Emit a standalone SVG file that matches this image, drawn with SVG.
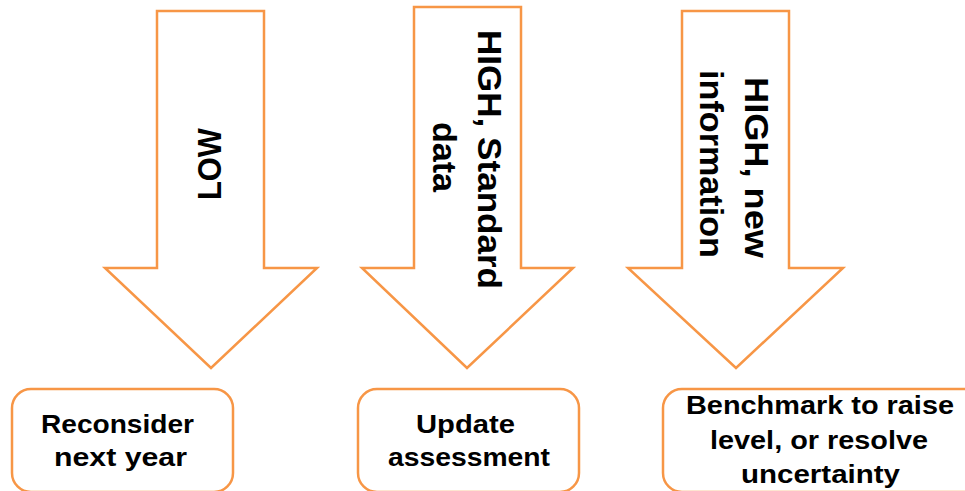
<svg xmlns="http://www.w3.org/2000/svg" width="965" height="491" viewBox="0 0 965 491">
  <style>
    .arrow { fill: #ffffff; stroke: #F79646; stroke-width: 2.5; stroke-linejoin: miter; }
    .box { fill: #ffffff; stroke: #F79646; stroke-width: 2.5; }
    .lbl { font-family: "Liberation Sans", Arial, sans-serif; font-weight: bold; fill: #000000; }
    .al { font-size: 33px; }
    .bl { font-size: 25px; }
  </style>
  <rect x="0" y="0" width="965" height="491" fill="#ffffff"/>
  <g id="connectors">
    <g id="arrow-low">
      <polygon class="arrow" points="157,11 264,11 264,268 317,268 211,368 105,268 157,268"/>
      <text class="lbl al" transform="translate(221,200) rotate(-90)" x="0" y="0" textLength="72" lengthAdjust="spacingAndGlyphs">LOW</text>
    </g>
    <g id="arrow-high-standard">
      <polygon class="arrow" points="414,7 521,7 521,268 573,268 467,368 362,268 414,268"/>
      <text class="lbl al" transform="translate(478,30) rotate(90)" x="0" y="0" textLength="259" lengthAdjust="spacingAndGlyphs">HIGH, Standard</text>
      <text class="lbl al" transform="translate(433,122) rotate(90)" x="0" y="0" textLength="70" lengthAdjust="spacingAndGlyphs">data</text>
    </g>
    <g id="arrow-high-new">
      <polygon class="arrow" points="682,11 789,11 789,268 843,268 736,368 628,268 682,268"/>
      <text class="lbl al" transform="translate(745,77) rotate(90)" x="0" y="0" textLength="181" lengthAdjust="spacingAndGlyphs">HIGH,  new</text>
      <text class="lbl al" transform="translate(700,70) rotate(90)" x="0" y="0" textLength="188" lengthAdjust="spacingAndGlyphs">information</text>
    </g>
  </g>
  <g id="node-reconsider">
    <rect class="box" x="12" y="389" width="221" height="103" rx="19" ry="19"/>
    <text class="lbl bl" x="41" y="433" textLength="153" lengthAdjust="spacingAndGlyphs">Reconsider</text>
    <text class="lbl bl" x="54" y="466" textLength="133" lengthAdjust="spacingAndGlyphs">next year</text>
  </g>
  <g id="node-update">
    <rect class="box" x="358" y="389" width="221" height="103" rx="19" ry="19"/>
    <text class="lbl bl" x="416" y="433" textLength="99" lengthAdjust="spacingAndGlyphs">Update</text>
    <text class="lbl bl" x="388" y="466" textLength="162" lengthAdjust="spacingAndGlyphs">assessment</text>
  </g>
  <g id="node-benchmark">
    <rect class="box" x="663" y="389" width="320" height="103" rx="19" ry="19"/>
    <text class="lbl bl" x="686" y="414" textLength="268" lengthAdjust="spacingAndGlyphs">Benchmark to raise</text>
    <text class="lbl bl" x="710" y="449" textLength="218" lengthAdjust="spacingAndGlyphs">level, or resolve</text>
    <text class="lbl bl" x="741" y="483" textLength="159" lengthAdjust="spacingAndGlyphs">uncertainty</text>
  </g>
</svg>
